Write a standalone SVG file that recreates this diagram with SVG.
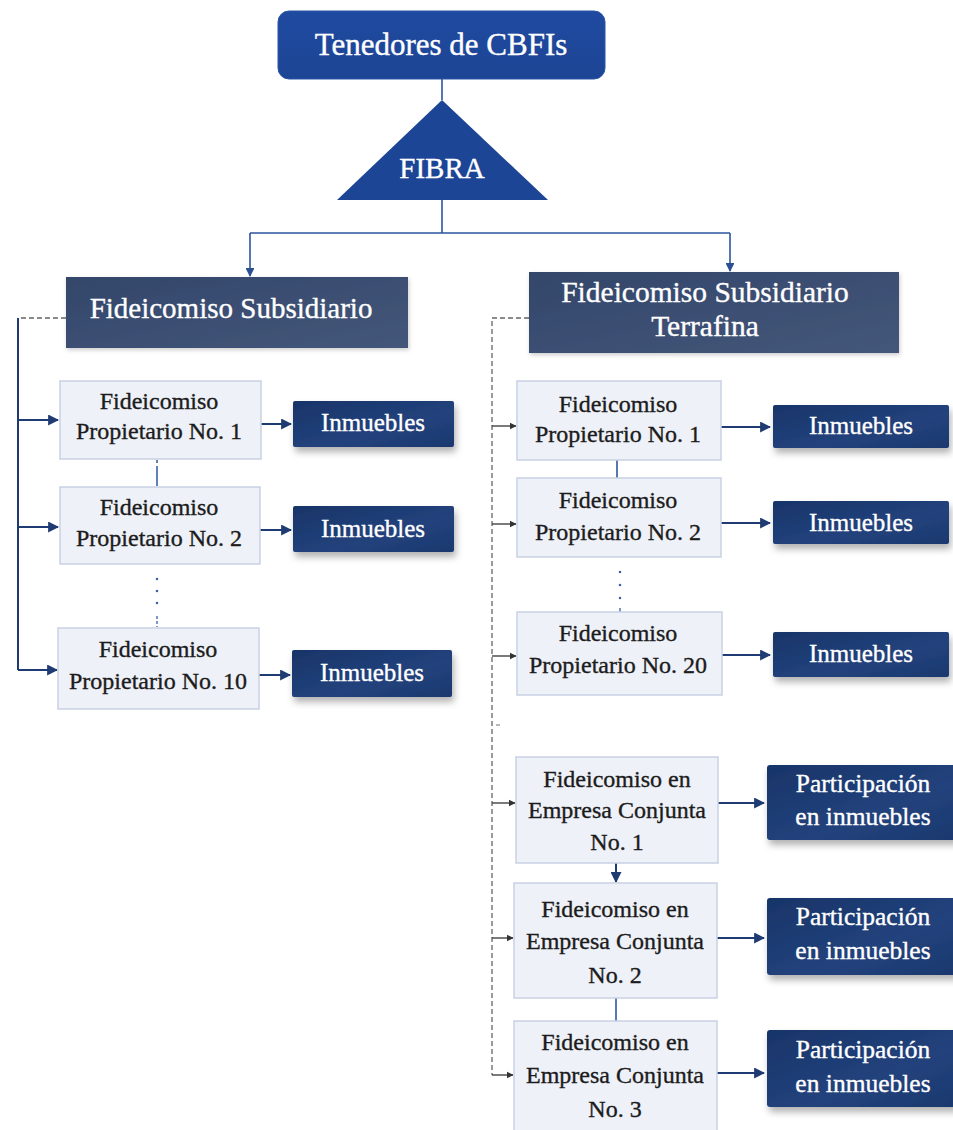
<svg xmlns="http://www.w3.org/2000/svg" width="953" height="1130" viewBox="0 0 953 1130">
<defs>
<linearGradient id="gTop" x1="0" y1="0" x2="0" y2="1"><stop offset="0" stop-color="#1f4aa0"/><stop offset="1" stop-color="#1d4595"/></linearGradient>
<linearGradient id="gSub" x1="0" y1="0" x2="1" y2="1"><stop offset="0" stop-color="#33466a"/><stop offset="1" stop-color="#44577a"/></linearGradient>
<linearGradient id="gInm" x1="0" y1="0" x2="1" y2="1"><stop offset="0" stop-color="#183468"/><stop offset="0.6" stop-color="#22427c"/><stop offset="1" stop-color="#1b386e"/></linearGradient>
<filter id="sh" x="-10%" y="-20%" width="125%" height="160%"><feDropShadow dx="2" dy="5" stdDeviation="3.5" flood-color="#000" flood-opacity="0.3"/></filter>
<filter id="sh2" x="-10%" y="-20%" width="125%" height="160%"><feDropShadow dx="1" dy="2" stdDeviation="2" flood-color="#000" flood-opacity="0.2"/></filter>
<marker id="aB" viewBox="0 0 10 10" refX="9" refY="5" markerWidth="5.5" markerHeight="5.5" orient="auto"><path d="M0,0 L10,5 L0,10 z" fill="#2a4f93"/></marker>
<marker id="aN" viewBox="0 0 10 10" refX="9" refY="5" markerWidth="5.5" markerHeight="5.5" orient="auto"><path d="M0,0 L10,5 L0,10 z" fill="#1f3b73"/></marker>
<marker id="aG" viewBox="0 0 10 10" refX="9" refY="5" markerWidth="5.5" markerHeight="5.5" orient="auto"><path d="M0,0 L10,5 L0,10 z" fill="#333"/></marker>
</defs>
<style>
text{font-family:"Liberation Serif","Times New Roman",serif;text-anchor:middle}
.w{fill:#ffffff;stroke:#ffffff;stroke-width:0.35}
.k{fill:#1c1c1c;stroke:#1c1c1c;stroke-width:0.35;font-size:24px}
.light{fill:#eef1f8;stroke:#c9d1e2;stroke-width:1.5}
.inm{fill:url(#gInm)}
.blue{stroke:#2d55a0;stroke-width:1.6;fill:none}
.navy{stroke:#1f3b73;stroke-width:2;fill:none}
.gray{stroke:#666;stroke-width:1.3;fill:none;stroke-dasharray:5 3}
.garr{stroke:#333;stroke-width:1.3;fill:none}
.iw{font-size:25px}
.pw{font-size:25.5px}
</style>
<rect width="953" height="1130" fill="#ffffff"/>

<g id="connectors">
<path class="blue" d="M442,79 V100"/>
<path class="blue" d="M442,200 V233 M250,233 H730"/>
<path class="blue" d="M250,233 V276" marker-end="url(#aB)"/>
<path class="blue" d="M730,233 V271" marker-end="url(#aB)"/>
<path class="gray" d="M66,318 H18"/>
<path class="navy" d="M18,318 V670"/>
<path class="navy" d="M18,420 H58" marker-end="url(#aN)"/>
<path class="navy" d="M18,527 H58" marker-end="url(#aN)"/>
<path class="navy" d="M18,670 H57" marker-end="url(#aN)"/>
<path class="navy" d="M261,424 H291" marker-end="url(#aN)"/>
<path class="navy" d="M260,530 H291" marker-end="url(#aN)"/>
<path class="navy" d="M259,675 H290" marker-end="url(#aN)"/>
<path stroke="#3a62a8" stroke-width="1.6" fill="none" d="M157,460 V486" stroke-dasharray="3 3 30"/>
<path stroke="#3a62a8" stroke-width="2.6" stroke-linecap="round" fill="none" d="M157,579 V612" stroke-dasharray="0 12"/>
<path stroke="#3a62a8" stroke-width="1.3" fill="none" d="M157,616 V627" stroke-dasharray="3 2"/>
<path class="gray" d="M529,318 H492 V1075"/>
<path class="garr" d="M492,426 H516" marker-end="url(#aG)"/>
<path class="garr" d="M492,524 H516" marker-end="url(#aG)"/>
<path class="garr" d="M492,656 H516" marker-end="url(#aG)"/>
<path stroke="#888" stroke-width="1.2" d="M496,725 H500"/>
<path class="garr" d="M492,803 H515" marker-end="url(#aG)"/>
<path class="garr" d="M492,938 H513" marker-end="url(#aG)"/>
<path class="garr" d="M492,1075 H513" marker-end="url(#aG)"/>
<path class="blue" d="M617,460 V478"/>
<path stroke="#3a62a8" stroke-width="2.6" stroke-linecap="round" fill="none" d="M620,572 V600" stroke-dasharray="0 13"/>
<path stroke="#3a62a8" stroke-width="1.3" fill="none" d="M620,608 V612"/>
<path class="navy" d="M721,427 H770" marker-end="url(#aN)"/>
<path class="navy" d="M721,523 H770" marker-end="url(#aN)"/>
<path class="navy" d="M722,655 H770" marker-end="url(#aN)"/>
<path class="navy" d="M616,863 V882" marker-end="url(#aN)"/>
<path class="blue" d="M616,998 V1021"/>
<path class="navy" d="M718,803 H764" marker-end="url(#aN)"/>
<path class="navy" d="M717,938 H764" marker-end="url(#aN)"/>
<path class="navy" d="M717,1073 H764" marker-end="url(#aN)"/>
</g>

<g id="tenedores">
<rect x="278" y="11" width="327" height="68" rx="11" fill="url(#gTop)" stroke="#2a56a8" stroke-width="1"/>
<text class="w" x="441" y="55" font-size="31">Tenedores de CBFIs</text>
</g>
<g id="fibra">
<polygon points="442,100 548,200 337,200" fill="#1d4595"/>
<text class="w" x="442" y="178" font-size="29">FIBRA</text>
</g>

<g id="sub-left">
<rect x="66" y="277" width="342" height="71" fill="url(#gSub)" filter="url(#sh2)"/>
<text class="w" x="231" y="318" font-size="29">Fideicomiso Subsidiario</text>
</g>
<g id="sub-right">
<rect x="529" y="272" width="370" height="81" fill="url(#gSub)" filter="url(#sh2)"/>
<text class="w" x="705" y="302" font-size="29.5">Fideicomiso Subsidiario</text>
<text class="w" x="705" y="336" font-size="29.5">Terrafina</text>
</g>

<g id="fp1-left">
<rect class="light" x="60" y="381" width="201" height="78"/>
<text class="k" x="159" y="409">Fideicomiso</text>
<text class="k" x="159" y="439">Propietario No. 1</text>
</g>
<g id="fp2-left">
<rect class="light" x="60" y="487" width="200" height="77"/>
<text class="k" x="159" y="515">Fideicomiso</text>
<text class="k" x="159" y="546">Propietario No. 2</text>
</g>
<g id="fp10-left">
<rect class="light" x="58" y="628" width="201" height="81"/>
<text class="k" x="158" y="657">Fideicomiso</text>
<text class="k" x="158" y="689">Propietario No. 10</text>
</g>

<g id="inm1-left">
<rect class="inm" x="293" y="401" width="161" height="46" rx="2" filter="url(#sh)"/>
<text class="w iw" x="373" y="431">Inmuebles</text>
</g>
<g id="inm2-left">
<rect class="inm" x="293" y="506" width="161" height="46" rx="2" filter="url(#sh)"/>
<text class="w iw" x="373" y="537">Inmuebles</text>
</g>
<g id="inm3-left">
<rect class="inm" x="292" y="650" width="160" height="47" rx="2" filter="url(#sh)"/>
<text class="w iw" x="372" y="681">Inmuebles</text>
</g>

<g id="fp1-right">
<rect class="light" x="517" y="381" width="204" height="79"/>
<text class="k" x="618" y="412">Fideicomiso</text>
<text class="k" x="618" y="442">Propietario No. 1</text>
</g>
<g id="fp2-right">
<rect class="light" x="517" y="478" width="204" height="79"/>
<text class="k" x="618" y="508">Fideicomiso</text>
<text class="k" x="618" y="540">Propietario No. 2</text>
</g>
<g id="fp20-right">
<rect class="light" x="517" y="612" width="205" height="83"/>
<text class="k" x="618" y="641">Fideicomiso</text>
<text class="k" x="618" y="673">Propietario No. 20</text>
</g>

<g id="inm1-right">
<rect class="inm" x="773" y="405" width="176" height="43" rx="2" filter="url(#sh)"/>
<text class="w iw" x="861" y="434">Inmuebles</text>
</g>
<g id="inm2-right">
<rect class="inm" x="773" y="501" width="176" height="43" rx="2" filter="url(#sh)"/>
<text class="w iw" x="861" y="531">Inmuebles</text>
</g>
<g id="inm3-right">
<rect class="inm" x="773" y="632" width="176" height="45" rx="2" filter="url(#sh)"/>
<text class="w iw" x="861" y="662">Inmuebles</text>
</g>

<g id="jv1">
<rect class="light" x="516" y="757" width="202" height="106"/>
<text class="k" x="617" y="787">Fideicomiso en</text>
<text class="k" x="617" y="818">Empresa Conjunta</text>
<text class="k" x="617" y="850">No. 1</text>
</g>
<g id="jv2">
<rect class="light" x="514" y="883" width="203" height="115"/>
<text class="k" x="615" y="917">Fideicomiso en</text>
<text class="k" x="615" y="949">Empresa Conjunta</text>
<text class="k" x="615" y="983">No. 2</text>
</g>
<g id="jv3">
<rect class="light" x="514" y="1021" width="203" height="115"/>
<text class="k" x="615" y="1050">Fideicomiso en</text>
<text class="k" x="615" y="1083">Empresa Conjunta</text>
<text class="k" x="615" y="1117">No. 3</text>
</g>

<g id="part1">
<rect class="inm" x="767" y="765" width="192" height="75" rx="3" filter="url(#sh)"/>
<text class="w pw" x="863" y="792">Participación</text>
<text class="w pw" x="863" y="825">en inmuebles</text>
</g>
<g id="part2">
<rect class="inm" x="767" y="898" width="192" height="77" rx="3" filter="url(#sh)"/>
<text class="w pw" x="863" y="925">Participación</text>
<text class="w pw" x="863" y="959">en inmuebles</text>
</g>
<g id="part3">
<rect class="inm" x="767" y="1030" width="192" height="77" rx="3" filter="url(#sh)"/>
<text class="w pw" x="863" y="1058">Participación</text>
<text class="w pw" x="863" y="1092">en inmuebles</text>
</g>
</svg>
